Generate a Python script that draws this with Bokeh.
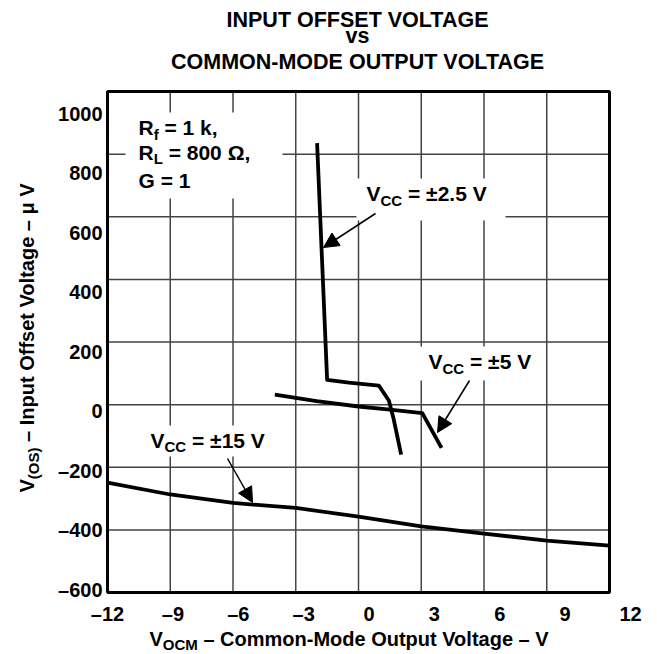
from math import pi
from bokeh.plotting import figure
from bokeh.models import Label, Arrow, NormalHead, BoxAnnotation, Range1d
from bokeh.core.properties import value
from bokeh.embed import file_html
from bokeh.resources import INLINE

# ---------------- data ----------------
x_ticks = [-12, -9, -6, -3, 0, 3, 6, 9, 12]
y_ticks = [-600, -400, -200, 0, 200, 400, 600, 800, 1000]

vcc15_x = [-12, -9, -6, -3, 0, 3, 6, 9, 12]
vcc15_y = [-249, -287, -314, -330, -358, -389, -412, -434, -450]

vcc5_x = [-4.0, -2.0, 0.0, 1.5, 3.05, 3.97]
vcc5_y = [32, 11, -6, -16, -27, -138]

vcc25_x = [-1.98, -1.50, -0.46, 0.97, 1.45, 1.66, 2.04]
vcc25_y = [835, 79, 70, 61, 13, -40, -160]

title_lines = ["INPUT OFFSET VOLTAGE", "vs", "COMMON-MODE OUTPUT VOLTAGE"]

def fmt(t):
    return ("\u2013" + str(abs(t))) if t < 0 else str(t)

x_labels = [fmt(t) for t in x_ticks]
y_labels = [fmt(t) for t in y_ticks]

# ---------------- layout (page px) ----------------
FONT = "Liberation Sans"
TOT_W, TOT_H = 656, 653
FL, FT, FR, FB = 107, 91, 609, 592   # chart box edges (page px)
XL0, XL1 = 107, 630                  # first / last x tick-label centres
YL0, YL1 = 113, 589                  # top / bottom y tick-label centres
MID = 0.35                           # em offset baseline -> middle

def X(px):
    return x_ticks[0] + (px - FL) * (x_ticks[-1] - x_ticks[0]) / (FR - FL)

def Y(py):
    return y_ticks[-1] - (py - FT) * (y_ticks[-1] - y_ticks[0]) / (FB - FT)

def XL(px):
    return x_ticks[0] + (px - XL0) * (x_ticks[-1] - x_ticks[0]) / (XL1 - XL0)

def YL(py):
    return y_ticks[-1] - (py - YL0) * (y_ticks[-1] - y_ticks[0]) / (YL1 - YL0)

p = figure(width=TOT_W, height=TOT_H, output_backend="svg", toolbar_location=None,
           title=None, x_axis_type=None, y_axis_type=None,
           x_range=Range1d(X(0), X(TOT_W)), y_range=Range1d(Y(TOT_H), Y(0)),
           min_border_left=0, min_border_right=0,
           min_border_top=0, min_border_bottom=0)
p.extra_x_ranges = {"lab": Range1d(XL(0), XL(TOT_W))}
p.extra_y_ranges = {"lab": Range1d(YL(TOT_H), YL(0))}
p.background_fill_color = "white"
p.border_fill_color = "white"
p.outline_line_color = None

nx, ny = len(x_ticks), len(y_ticks)

# grid
p.segment(x0=x_ticks, y0=[y_ticks[0]] * nx, x1=x_ticks, y1=[y_ticks[-1]] * nx,
          line_color="#444444", line_width=1.5)
p.segment(x0=[x_ticks[0]] * ny, y0=y_ticks, x1=[x_ticks[-1]] * ny, y1=y_ticks,
          line_color="#444444", line_width=1.5)

# tick labels (printed on their own, slightly different, scale as in the source)
p.text(x=x_ticks, y=[y_ticks[0]] * nx, text=x_labels, y_offset=21,
       x_range_name="lab",
       text_font=value(FONT), text_font_style="bold",
       text_font_size=value("20px"), text_color="black",
       text_align="center", text_baseline="middle")
p.text(x=[x_ticks[0]] * ny, y=y_ticks, text=y_labels, x_offset=-5,
       y_range_name="lab",
       text_font=value(FONT), text_font_style="bold",
       text_font_size=value("20px"), text_color="black",
       text_align="right", text_baseline="middle")

# curves
for xs, ys in ((vcc15_x, vcc15_y), (vcc5_x, vcc5_y), (vcc25_x, vcc25_y)):
    p.line(xs, ys, line_color="black", line_width=3.8, line_join="round")

# chart box
p.quad(left=[x_ticks[0]], right=[x_ticks[-1]], bottom=[y_ticks[0]],
       top=[y_ticks[-1]], fill_color=None, line_color="black", line_width=3)

# white boxes behind annotation text
for (l, t, r, b) in ((125, 112, 282, 198), (356, 178, 505, 220),
                     (414, 346, 545, 380), (140, 425, 278, 456)):
    p.add_layout(BoxAnnotation(left=X(l), right=X(r), top=Y(t), bottom=Y(b),
                               fill_color="white", fill_alpha=1.0,
                               line_color=None))

# ---------------- rich text helpers ----------------
ADV = {'V': 667, 'R': 722, 'C': 722, 'O': 778, 'S': 667, 'M': 833,
       '(': 333, ')': 333, 'f': 333, 'L': 611}

def tw(s, size):
    return sum(ADV.get(c, 556) for c in s) * size / 1000.0

def lab(x, y, text, size, **kw):
    p.add_layout(Label(x=x, y=y, text=text, text_font=FONT,
                       text_font_style="bold", text_font_size=f"{size}px",
                       text_color="black", text_baseline="middle", **kw))

def rich(px, base, parts):
    x = px
    for text, size, drop in parts:
        lab(X(x), Y(base + drop - MID * size), text, size, text_align="left")
        x += tw(text, size)

def rich_v(base_x, py, parts):
    y = py
    for text, size, drop in parts:
        lab(X(base_x + drop - MID * size), Y(y), text, size, angle=pi / 2,
            text_align="left")
        y -= tw(text, size)

NB = "\u00a0"

# title
for text, base in zip(title_lines, (27, 43, 69)):
    lab(X(357), Y(base - MID * 21.5), text, 21.5, text_align="center")

# axis titles
rich(149, 645, [("V", 20, 0), ("OCM", 15, 4),
                (NB + "\u2013 Common-Mode Output Voltage \u2013 V", 20, 0)])
rich_v(33, 492, [("V", 20, 0), ("(OS)", 15, 5),
                 (NB + "\u2013 Input Offset Voltage \u2013 \u03bc V", 20, 0)])

# conditions
rich(138, 134, [("R", 21, 0), ("f", 15, 5), (NB + "= 1 k,", 21, 0)])
rich(138, 159, [("R", 21, 0), ("L", 15, 4), (NB + "= 800 \u03a9,", 21, 0)])
rich(138, 187, [("G = 1", 21, 0)])

# curve annotations
rich(366, 200, [("V", 21, 0), ("CC", 15, 5), (NB + "= \u00b12.5 V", 21, 0)])
rich(428, 368, [("V", 21, 0), ("CC", 15, 5), (NB + "= \u00b15 V", 21, 0)])
rich(150, 447, [("V", 21, 0), ("CC", 15, 4), (NB + "= \u00b115 V", 21, 0)])

for (sx, sy, ex, ey) in ((375, 213, 323, 247), (469, 380, 437, 432),
                         (227, 458, 252, 502)):
    p.add_layout(Arrow(end=NormalHead(size=15, fill_color="black",
                                      line_color="black", line_width=1),
                       x_start=X(sx), y_start=Y(sy), x_end=X(ex), y_end=Y(ey),
                       line_color="black", line_width=1.5))

open("out.html", "w").write(file_html(p, INLINE))
